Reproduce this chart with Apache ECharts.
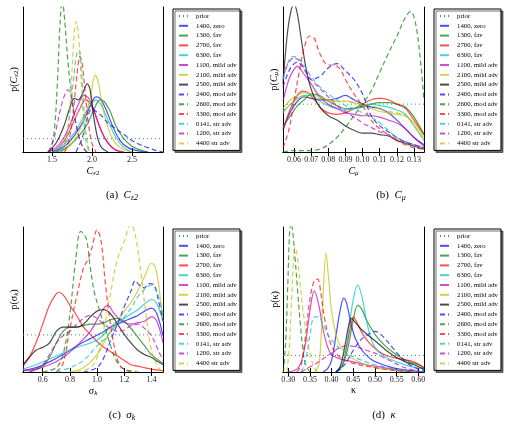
<!DOCTYPE html>
<html>
<head>
<meta charset="utf-8">
<script src="https://cdn.jsdelivr.net/npm/echarts@6/dist/echarts.min.js"></script>
<style>
  html, body { margin: 0; padding: 0; background: #fff; }
  #chart { width: 508px; height: 426px; }
</style>
</head>
<body>
<div id="chart"></div>
<script>
// legend entries, in plotting order
const names = ['prior', '1400, zero', '1300, fav', '2700, fav', '6300, fav', '1100, mild adv',
  '2100, mild adv', '2500, mild adv', '2400, mod adv', '2600, mod adv', '3300, mod adv',
  '0141, str adv', '1200, str adv', '4400 str adv'];

// x ranges and tick labels of the four panels
const rangeA = [1.138, 2.888];
const rangeB = [0.0536, 0.1358];
const rangeC = [0.455, 1.485];
const rangeD = [0.288, 0.613];
const ticksA = [1.5, 2.0, 2.5];
const ticksB = [0.06, 0.07, 0.08, 0.09, 0.10, 0.11, 0.12, 0.13];
const ticksC = [0.6, 0.8, 1.0, 1.2, 1.4];
const ticksD = [0.30, 0.35, 0.40, 0.45, 0.50, 0.55, 0.60];

// prior level (fraction of panel height)
const priorA = 0.092;
const priorB = 0.33;
const priorC = 0.256;
const priorD = 0.114;

// densities, panel (a) C_eps2 -- order as names[1..]
const curvesA = [
  [[1.5,0],[1.6,0.02],[1.7,0.06],[1.8,0.13],[1.9,0.22],[1.98,0.32],[2.05,0.38],[2.1,0.37],[2.17,0.3],[2.25,0.19],[2.35,0.08],[2.45,0.03],[2.6,0.005],[2.7,0]],
  [[1.55,0],[1.65,0.02],[1.75,0.06],[1.85,0.12],[1.95,0.2],[2.03,0.3],[2.1,0.36],[2.15,0.35],[2.22,0.29],[2.3,0.18],[2.4,0.09],[2.5,0.04],[2.6,0.015],[2.7,0]],
  [[1.5,0],[1.6,0.04],[1.7,0.12],[1.78,0.22],[1.85,0.3],[1.92,0.36],[1.97,0.34],[2.03,0.27],[2.1,0.17],[2.18,0.08],[2.28,0.02],[2.4,0]],
  [[1.5,0],[1.6,0.03],[1.7,0.08],[1.8,0.15],[1.9,0.25],[1.97,0.32],[2.05,0.36],[2.12,0.32],[2.2,0.22],[2.3,0.1],[2.4,0.03],[2.5,0]],
  [[1.45,0],[1.55,0.03],[1.65,0.1],[1.75,0.22],[1.83,0.33],[1.9,0.39],[1.97,0.36],[2.05,0.25],[2.12,0.14],[2.2,0.06],[2.3,0.01],[2.4,0]],
  [[1.6,0],[1.7,0.03],[1.8,0.1],[1.9,0.22],[1.98,0.38],[2.04,0.53],[2.08,0.48],[2.13,0.32],[2.2,0.17],[2.28,0.07],[2.38,0.02],[2.5,0]],
  [[1.45,0],[1.55,0.06],[1.65,0.18],[1.72,0.3],[1.78,0.37],[1.83,0.36],[1.88,0.4],[1.94,0.47],[1.98,0.42],[2.02,0.25],[2.07,0.1],[2.12,0.03],[2.2,0]],
  [[1.8,0],[1.88,0.1],[1.95,0.25],[2.0,0.3],[2.05,0.28],[2.12,0.25],[2.2,0.2],[2.3,0.16],[2.4,0.12],[2.5,0.08],[2.6,0.05],[2.7,0.03],[2.8,0.01],[2.888,0]],
  [[1.48,0],[1.53,0.15],[1.57,0.5],[1.6,0.88],[1.63,1.05],[1.66,0.9],[1.7,0.62],[1.74,0.42],[1.78,0.26],[1.83,0.12],[1.88,0.04],[1.93,0]],
  [[1.66,0],[1.72,0.1],[1.77,0.3],[1.81,0.52],[1.85,0.66],[1.88,0.6],[1.92,0.38],[1.96,0.18],[2.0,0.06],[2.05,0]],
  [[1.62,0],[1.68,0.1],[1.73,0.3],[1.77,0.5],[1.81,0.68],[1.84,0.7],[1.87,0.55],[1.9,0.3],[1.93,0.1],[1.97,0]],
  [[1.45,0],[1.5,0.05],[1.55,0.15],[1.6,0.28],[1.65,0.38],[1.7,0.43],[1.74,0.38],[1.78,0.25],[1.83,0.12],[1.88,0.04],[1.94,0]],
  [[1.65,0],[1.7,0.15],[1.74,0.45],[1.77,0.75],[1.8,0.9],[1.83,0.82],[1.86,0.55],[1.89,0.25],[1.92,0.08],[1.96,0]]
];

// panel (b) C_mu
const curvesB = [
  [[0.0536,0.15],[0.058,0.28],[0.062,0.35],[0.066,0.38],[0.07,0.37],[0.075,0.36],[0.08,0.36],[0.085,0.37],[0.09,0.39],[0.095,0.36],[0.1,0.33],[0.105,0.31],[0.11,0.3],[0.115,0.27],[0.12,0.22],[0.125,0.16],[0.13,0.1],[0.1358,0.05]],
  [[0.0536,0.18],[0.058,0.25],[0.062,0.32],[0.066,0.36],[0.07,0.4],[0.075,0.39],[0.08,0.35],[0.085,0.32],[0.09,0.3],[0.095,0.3],[0.1,0.31],[0.105,0.33],[0.11,0.34],[0.115,0.34],[0.12,0.33],[0.125,0.31],[0.13,0.24],[0.1358,0.12]],
  [[0.0536,0.16],[0.058,0.3],[0.062,0.39],[0.065,0.42],[0.068,0.41],[0.072,0.36],[0.076,0.3],[0.08,0.27],[0.085,0.26],[0.09,0.27],[0.095,0.3],[0.1,0.33],[0.105,0.36],[0.11,0.37],[0.115,0.36],[0.12,0.33],[0.125,0.3],[0.13,0.22],[0.1358,0.12]],
  [[0.0536,0.27],[0.058,0.33],[0.062,0.37],[0.066,0.39],[0.07,0.39],[0.075,0.35],[0.08,0.32],[0.085,0.3],[0.09,0.29],[0.095,0.3],[0.1,0.32],[0.105,0.33],[0.11,0.32],[0.115,0.31],[0.12,0.29],[0.125,0.26],[0.13,0.18],[0.1358,0.08]],
  [[0.0536,0.35],[0.057,0.5],[0.06,0.57],[0.062,0.59],[0.065,0.55],[0.07,0.47],[0.075,0.38],[0.08,0.33],[0.085,0.3],[0.09,0.27],[0.095,0.26],[0.1,0.25],[0.105,0.25],[0.11,0.24],[0.115,0.22],[0.12,0.2],[0.125,0.16],[0.13,0.1],[0.1358,0.04]],
  [[0.0536,0.3],[0.058,0.36],[0.062,0.39],[0.066,0.41],[0.07,0.4],[0.075,0.38],[0.08,0.36],[0.085,0.35],[0.09,0.35],[0.095,0.34],[0.1,0.32],[0.105,0.3],[0.11,0.28],[0.115,0.27],[0.12,0.26],[0.125,0.25],[0.13,0.2],[0.1358,0.1]],
  [[0.0536,0.47],[0.056,0.8],[0.058,0.96],[0.06,1.02],[0.062,0.95],[0.065,0.72],[0.068,0.52],[0.071,0.4],[0.075,0.31],[0.08,0.25],[0.085,0.22],[0.09,0.18],[0.095,0.15],[0.1,0.13],[0.105,0.13],[0.11,0.12],[0.115,0.11],[0.12,0.08],[0.125,0.06],[0.13,0.04],[0.1358,0.02]],
  [[0.0536,0.45],[0.058,0.58],[0.062,0.62],[0.066,0.57],[0.07,0.5],[0.075,0.52],[0.08,0.58],[0.085,0.61],[0.09,0.56],[0.095,0.5],[0.1,0.4],[0.105,0.25],[0.11,0.18],[0.115,0.14],[0.12,0.1],[0.125,0.07],[0.13,0.05],[0.1358,0.03]],
  [[0.0536,0],[0.06,0.01],[0.07,0.01],[0.075,0.02],[0.08,0.05],[0.085,0.1],[0.09,0.17],[0.095,0.25],[0.1,0.33],[0.105,0.42],[0.11,0.55],[0.115,0.68],[0.12,0.8],[0.125,0.93],[0.128,0.97],[0.131,0.88],[0.134,0.6],[0.1358,0.35]],
  [[0.0536,0.03],[0.057,0.15],[0.06,0.35],[0.063,0.55],[0.066,0.72],[0.069,0.8],[0.072,0.78],[0.075,0.68],[0.08,0.6],[0.083,0.6],[0.087,0.57],[0.09,0.5],[0.095,0.4],[0.1,0.32],[0.105,0.22],[0.11,0.16],[0.115,0.12],[0.12,0.08],[0.125,0.05],[0.13,0.03],[0.1358,0.02]],
  [[0.0536,0.5],[0.057,0.63],[0.06,0.66],[0.063,0.64],[0.067,0.58],[0.07,0.52],[0.075,0.45],[0.08,0.4],[0.085,0.36],[0.09,0.32],[0.095,0.3],[0.1,0.27],[0.105,0.24],[0.11,0.2],[0.115,0.15],[0.12,0.1],[0.13,0.05],[0.1358,0.03]],
  [[0.0536,0.52],[0.057,0.62],[0.06,0.65],[0.063,0.63],[0.067,0.56],[0.07,0.5],[0.075,0.44],[0.08,0.38],[0.085,0.32],[0.09,0.28],[0.095,0.24],[0.1,0.2],[0.105,0.17],[0.11,0.14],[0.115,0.12],[0.12,0.09],[0.13,0.05],[0.1358,0.03]],
  [[0.0536,0.28],[0.058,0.33],[0.062,0.37],[0.066,0.38],[0.07,0.38],[0.075,0.37],[0.08,0.36],[0.085,0.35],[0.09,0.35],[0.095,0.34],[0.1,0.33],[0.105,0.32],[0.11,0.3],[0.115,0.28],[0.12,0.27],[0.125,0.25],[0.13,0.18],[0.1358,0.08]]
];

// panel (c) sigma_k
const curvesC = [
  [[0.455,0.01],[0.55,0.03],[0.65,0.07],[0.75,0.12],[0.85,0.18],[0.95,0.23],[1.05,0.28],[1.1,0.31],[1.15,0.33],[1.2,0.35],[1.25,0.37],[1.3,0.39],[1.35,0.42],[1.4,0.44],[1.44,0.4],[1.485,0.25]],
  [[0.5,0],[0.6,0.04],[0.65,0.1],[0.7,0.2],[0.75,0.28],[0.8,0.31],[0.85,0.31],[0.9,0.32],[0.95,0.33],[1.0,0.33],[1.05,0.34],[1.1,0.36],[1.15,0.37],[1.2,0.35],[1.25,0.3],[1.3,0.24],[1.35,0.18],[1.4,0.12],[1.485,0.06]],
  [[0.455,0.04],[0.5,0.1],[0.55,0.2],[0.6,0.33],[0.65,0.46],[0.7,0.54],[0.72,0.55],[0.76,0.52],[0.8,0.46],[0.85,0.39],[0.9,0.31],[0.95,0.26],[1.0,0.21],[1.05,0.17],[1.1,0.14],[1.15,0.11],[1.2,0.08],[1.25,0.05],[1.3,0.04],[1.4,0.02],[1.485,0.01]],
  [[0.455,0.02],[0.55,0.05],[0.65,0.09],[0.75,0.13],[0.85,0.17],[0.95,0.2],[1.0,0.22],[1.05,0.26],[1.1,0.31],[1.15,0.35],[1.2,0.37],[1.25,0.4],[1.3,0.43],[1.35,0.47],[1.4,0.5],[1.44,0.47],[1.485,0.35]],
  [[0.455,0.01],[0.55,0.02],[0.65,0.05],[0.75,0.1],[0.85,0.18],[0.95,0.28],[1.0,0.36],[1.05,0.44],[1.08,0.46],[1.12,0.41],[1.18,0.35],[1.25,0.33],[1.3,0.34],[1.35,0.35],[1.4,0.38],[1.44,0.35],[1.485,0.2]],
  [[0.8,0],[0.9,0.03],[1.0,0.12],[1.05,0.2],[1.1,0.28],[1.15,0.35],[1.2,0.42],[1.25,0.48],[1.3,0.56],[1.35,0.66],[1.4,0.75],[1.43,0.72],[1.46,0.55],[1.485,0.35]],
  [[0.455,0.05],[0.5,0.1],[0.55,0.15],[0.6,0.17],[0.65,0.2],[0.7,0.28],[0.75,0.31],[0.8,0.31],[0.85,0.31],[0.9,0.33],[0.95,0.38],[1.0,0.42],[1.05,0.43],[1.1,0.4],[1.15,0.33],[1.2,0.26],[1.25,0.2],[1.3,0.15],[1.35,0.12],[1.4,0.1],[1.45,0.07],[1.485,0.05]],
  [[0.9,0],[1.0,0.03],[1.05,0.1],[1.1,0.22],[1.15,0.33],[1.2,0.45],[1.25,0.56],[1.28,0.63],[1.31,0.6],[1.35,0.58],[1.38,0.61],[1.42,0.6],[1.45,0.5],[1.485,0.35]],
  [[0.6,0],[0.7,0.03],[0.75,0.12],[0.8,0.4],[0.84,0.75],[0.88,0.97],[0.92,0.92],[0.95,0.72],[0.98,0.55],[1.02,0.42],[1.06,0.3],[1.1,0.18],[1.14,0.08],[1.2,0.02],[1.3,0]],
  [[0.7,0],[0.75,0.06],[0.8,0.3],[0.85,0.52],[0.9,0.72],[0.93,0.77],[0.96,0.85],[1.0,0.98],[1.03,0.9],[1.06,0.62],[1.1,0.32],[1.14,0.12],[1.18,0.03],[1.25,0]],
  [[0.7,0],[0.8,0.03],[0.9,0.08],[1.0,0.18],[1.05,0.22],[1.1,0.28],[1.15,0.33],[1.2,0.38],[1.25,0.44],[1.3,0.52],[1.35,0.57],[1.4,0.6],[1.44,0.55],[1.485,0.4]],
  [[0.5,0],[0.6,0.05],[0.65,0.12],[0.7,0.2],[0.75,0.25],[0.8,0.28],[0.85,0.33],[0.9,0.37],[0.95,0.39],[1.0,0.37],[1.05,0.33],[1.1,0.3],[1.15,0.28],[1.2,0.29],[1.25,0.32],[1.3,0.33],[1.35,0.3],[1.4,0.25],[1.45,0.15],[1.485,0.08]],
  [[0.85,0],[0.95,0.03],[1.0,0.1],[1.05,0.3],[1.1,0.55],[1.15,0.78],[1.2,0.9],[1.25,1.02],[1.28,0.95],[1.32,0.7],[1.36,0.4],[1.4,0.15],[1.45,0.03],[1.485,0]]
];

// panel (d) kappa
const curvesD = [
  [[0.38,0],[0.39,0.02],[0.4,0.08],[0.41,0.25],[0.42,0.43],[0.428,0.51],[0.435,0.47],[0.445,0.33],[0.455,0.23],[0.47,0.15],[0.49,0.09],[0.51,0.06],[0.54,0.03],[0.57,0.015],[0.6,0.005],[0.613,0]],
  [[0.41,0],[0.42,0.02],[0.43,0.08],[0.44,0.2],[0.45,0.36],[0.46,0.46],[0.47,0.43],[0.48,0.36],[0.5,0.26],[0.52,0.19],[0.54,0.14],[0.56,0.1],[0.58,0.07],[0.6,0.05],[0.613,0.03]],
  [[0.41,0],[0.425,0.05],[0.435,0.18],[0.445,0.33],[0.45,0.38],[0.46,0.33],[0.47,0.27],[0.49,0.19],[0.51,0.14],[0.53,0.11],[0.56,0.09],[0.59,0.07],[0.613,0.03]],
  [[0.41,0],[0.42,0.02],[0.43,0.1],[0.44,0.3],[0.45,0.5],[0.46,0.6],[0.47,0.52],[0.48,0.36],[0.49,0.24],[0.5,0.17],[0.52,0.11],[0.55,0.07],[0.58,0.04],[0.613,0.02]],
  [[0.3,0],[0.32,0.02],[0.33,0.07],[0.34,0.2],[0.35,0.42],[0.36,0.56],[0.37,0.47],[0.38,0.3],[0.39,0.18],[0.4,0.12],[0.42,0.09],[0.45,0.07],[0.48,0.05],[0.52,0.03],[0.56,0.01],[0.6,0]],
  [[0.36,0],[0.37,0.04],[0.375,0.2],[0.38,0.5],[0.387,0.82],[0.393,0.65],[0.4,0.42],[0.41,0.26],[0.42,0.18],[0.44,0.11],[0.47,0.06],[0.5,0.03],[0.55,0.01],[0.6,0]],
  [[0.41,0],[0.42,0.04],[0.43,0.17],[0.44,0.33],[0.445,0.37],[0.455,0.34],[0.47,0.29],[0.49,0.24],[0.51,0.19],[0.53,0.14],[0.55,0.1],[0.57,0.07],[0.59,0.05],[0.613,0.02]],
  [[0.41,0],[0.43,0.05],[0.45,0.15],[0.47,0.23],[0.49,0.27],[0.5,0.28],[0.52,0.24],[0.54,0.17],[0.56,0.1],[0.58,0.05],[0.6,0.02],[0.613,0.01]],
  [[0.289,0],[0.294,0.2],[0.299,0.6],[0.303,0.95],[0.307,1.03],[0.311,0.95],[0.316,0.78],[0.322,0.55],[0.328,0.33],[0.334,0.15],[0.34,0.05],[0.35,0]],
  [[0.32,0],[0.33,0.05],[0.34,0.25],[0.35,0.5],[0.36,0.63],[0.368,0.64],[0.375,0.55],[0.385,0.35],[0.4,0.18],[0.42,0.1],[0.45,0.06],[0.5,0.03],[0.55,0.01],[0.6,0]],
  [[0.33,0],[0.34,0.08],[0.35,0.25],[0.36,0.38],[0.37,0.38],[0.38,0.33],[0.39,0.27],[0.4,0.22],[0.42,0.16],[0.44,0.12],[0.47,0.08],[0.5,0.05],[0.53,0.03],[0.56,0.01],[0.6,0]],
  [[0.33,0],[0.34,0.02],[0.36,0.05],[0.38,0.09],[0.4,0.13],[0.42,0.17],[0.44,0.18],[0.46,0.17],[0.48,0.15],[0.5,0.13],[0.52,0.1],[0.54,0.07],[0.56,0.04],[0.58,0.02],[0.6,0.01]],
  [[0.297,0],[0.302,0.15],[0.307,0.45],[0.312,0.75],[0.316,0.86],[0.321,0.8],[0.327,0.62],[0.333,0.45],[0.34,0.3],[0.348,0.15],[0.356,0.06],[0.365,0.01],[0.375,0]]
];

const serif = 'Liberation Serif';
const palette = ['#0000ff', '#008000', '#ff0000', '#00bfbf', '#bf00bf', '#bfbf00', '#000000'];
const priorColor = '#2e9a6e';

const rich = {
  r: { fontFamily: serif, fontSize: 10, color: '#000' },
  i: { fontFamily: serif, fontSize: 10, fontStyle: 'italic', color: '#000' },
  s: { fontFamily: serif, fontSize: 7, color: '#000', verticalAlign: 'bottom', padding: [5, 0, 0, 0] },
  si: { fontFamily: serif, fontSize: 7, fontStyle: 'italic', color: '#000', verticalAlign: 'bottom', padding: [5, 0, 0, 0] },
  cr: { fontFamily: serif, fontSize: 11, color: '#000' },
  ci: { fontFamily: serif, fontSize: 11, fontStyle: 'italic', color: '#000' },
  cs: { fontFamily: serif, fontSize: 8, fontStyle: 'italic', color: '#000', verticalAlign: 'bottom', padding: [6, 0, 0, 0] }
};

const panels = [
  { grid: [23, 7, 140, 145], legend: [173, 9], range: rangeA, ticks: ticksA, dec: 1, prior: priorA, curves: curvesA,
    xname: '{i|C}{si|ε}{s|2}', yname: '{r|p(}{i|C}{si|ε}{s|2}{r|)}',
    caption: '{cr|(a)  }{ci|C}{cs|ε2}', cap: [122, 195] },
  { grid: [283, 7, 141, 145], legend: [434, 9], range: rangeB, ticks: ticksB, dec: 2, prior: priorB, curves: curvesB,
    xname: '{i|C}{si|μ}', yname: '{r|p(}{i|C}{si|μ}{r|)}',
    caption: '{cr|(b)  }{ci|C}{cs|μ}', cap: [391, 195] },
  { grid: [23, 227, 140, 145], legend: [173, 229], range: rangeC, ticks: ticksC, dec: 1, prior: priorC, curves: curvesC,
    xname: '{r|σ}{si|k}', yname: '{r|p(σ}{si|k}{r|)}',
    caption: '{cr|(c)  }{ci|σ}{cs|k}', cap: [122, 415] },
  { grid: [283, 227, 141, 145], legend: [434, 229], range: rangeD, ticks: ticksD, dec: 2, prior: priorD, curves: curvesD,
    xname: '{r|κ}', yname: '{r|p(κ)}',
    caption: '{cr|(d)  }{ci|κ}', cap: [384, 415] }
];

const grids = [], xAxes = [], yAxes = [], legends = [], series = [], graphics = [];

panels.forEach((p, k) => {
  grids.push({ left: p.grid[0], top: p.grid[1], width: p.grid[2], height: p.grid[3], outerBoundsMode: 'none' });
  const frame = { show: true, lineStyle: { color: '#000', width: 1 } };
  xAxes.push({
    type: 'value', gridIndex: k, min: p.range[0], max: p.range[1],
    name: p.xname, nameLocation: 'middle', nameGap: 13, nameTextStyle: { rich: rich },
    axisLine: frame, splitLine: { show: false },
    axisTick: { inside: true, length: 4, customValues: p.ticks, lineStyle: { color: '#000' } },
    axisLabel: { customValues: p.ticks, margin: 4, fontFamily: serif, fontSize: 8, color: '#222',
      formatter: v => v.toFixed(p.dec) }
  });
  xAxes.push({
    type: 'value', gridIndex: k, position: 'top', min: p.range[0], max: p.range[1],
    axisLine: frame, splitLine: { show: false }, axisLabel: { show: false },
    axisTick: { inside: true, length: 4, customValues: p.ticks, lineStyle: { color: '#000' } }
  });
  yAxes.push({
    type: 'value', gridIndex: k, min: 0, max: 1.0,
    name: p.yname, nameLocation: 'middle', nameGap: 3, nameTextStyle: { rich: rich },
    axisLine: frame, axisTick: { show: false }, axisLabel: { show: false }, splitLine: { show: false }
  });
  yAxes.push({
    type: 'value', gridIndex: k, position: 'right', min: 0, max: 1.0,
    axisLine: frame, axisTick: { show: false }, axisLabel: { show: false }, splitLine: { show: false }
  });

  series.push({
    name: names[0], type: 'line', xAxisIndex: 2 * k, yAxisIndex: 2 * k, symbol: 'none',
    data: [[p.range[0], p.prior], [p.range[1], p.prior]], color: priorColor,
    lineStyle: { color: priorColor, width: 1, type: [1, 3] }, z: 1
  });
  p.curves.forEach((c, i) => {
    const col = palette[i % 7];
    series.push({
      name: names[i + 1], type: 'line', xAxisIndex: 2 * k, yAxisIndex: 2 * k, symbol: 'none',
      smooth: 0.35, data: c, color: col, clip: true,
      lineStyle: { color: col, width: 1.2, opacity: 0.7, type: i < 7 ? 'solid' : [5, 3] }
    });
  });

  legends.push({
    data: names, orient: 'vertical', left: p.legend[0], top: p.legend[1],
    itemWidth: 9, itemHeight: 8, itemGap: 1.8, padding: [3, 3, 3, 5],
    backgroundColor: '#fff', borderColor: '#000', borderWidth: 1,
    shadowColor: 'rgba(0,0,0,0.55)', shadowBlur: 0, shadowOffsetX: 2, shadowOffsetY: 2,
    itemStyle: { opacity: 0 }, selectedMode: false,
    textStyle: { fontFamily: serif, fontSize: 6.8, lineHeight: 8, color: '#000', padding: [0, 0, 0, 3] }
  });

  graphics.push({
    type: 'text', x: p.cap[0], y: p.cap[1],
    style: { text: p.caption, rich: rich, align: 'center', verticalAlign: 'middle' }
  });
});

const chart = echarts.init(document.getElementById('chart'));
chart.setOption({
  animation: false,
  backgroundColor: '#fff',
  grid: grids,
  xAxis: xAxes,
  yAxis: yAxes,
  legend: legends,
  series: series,
  graphic: graphics
});
</script>
</body>
</html>
